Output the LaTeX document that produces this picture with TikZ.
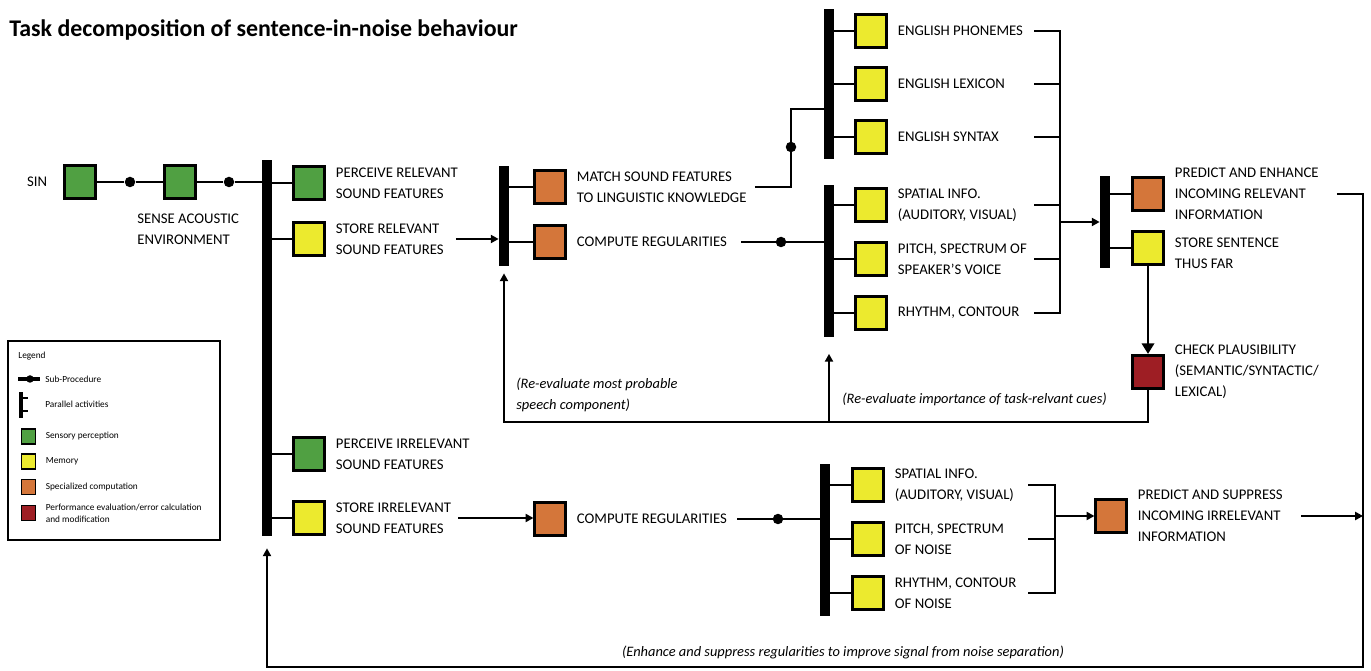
\documentclass[tikz,border=0pt]{standalone}
\usepackage{fontspec}
\setmainfont{Carlito}
\usepackage{tikz}
\usetikzlibrary{positioning}
\usetikzlibrary{arrows.meta}

\definecolor{sensgreen}{RGB}{80,160,66}
\definecolor{memyellow}{RGB}{236,234,46}
\definecolor{comporange}{RGB}{212,118,58}
\definecolor{evalred}{RGB}{158,30,36}

\begin{document}
\begin{tikzpicture}[x=0.02cm,y=-0.02cm,
	box/.style={draw,line width=1.5pt,minimum width=0.61cm,minimum height=0.67cm,inner sep=0pt},
	bar/.style={fill=black,minimum width=0.2cm,inner sep=0pt},
	dot/.style={circle,fill=black,minimum size=0.21cm,inner sep=0pt},
	txt/.style={align=left,inner sep=0pt,font=\fontsize{8.4}{12}\selectfont},
	note/.style={align=left,inner sep=0pt,font=\fontsize{8.2}{12}\selectfont\itshape},
	key/.style={align=left,inner sep=0pt,font=\fontsize{5.3}{6.8}\selectfont},
	keybox/.style={draw,line width=1.1pt,minimum width=0.28cm,minimum height=0.3cm,inner sep=0pt},
	link/.style={line width=1.4pt},
	flow/.style={line width=1.4pt,-{Triangle[length=4.5pt,width=4.6pt]}}]
\useasboundingbox (0,0) rectangle (1371,671);
\node[anchor=base west,inner sep=0pt,font=\fontsize{13.6}{15}\selectfont\bfseries] (title) at (9,37) {Task decomposition of sentence-in-noise behaviour};
% sensing chain
\node[box,fill=sensgreen] (sin) at (80,182) {};
\node[txt,left=0.32cm of sin] (sinT) {SIN};
\node[dot] (d1) at (130,182) {};
\node[box,fill=sensgreen] (sense) at (180,182) {};
\node[txt,anchor=west] (senseT) at (137,229) {SENSE ACOUSTIC\\ENVIRONMENT};
\node[dot] (d2) at (229,182) {};
\node[bar,minimum height=7.52cm] (bar1) at (267,348) {};
\draw[link] (sin) -- (d1) -- (sense) -- (d2) -- (d2 -| bar1.west);
\node[box,fill=sensgreen] (percR) at (309,183) {};
\node[txt,right=0.2cm of percR] (percRT) {PERCEIVE RELEVANT\\SOUND FEATURES};
\node[box,fill=memyellow] (storeR) at (309,239) {};
\node[txt,right=0.2cm of storeR] (storeRT) {STORE RELEVANT\\SOUND FEATURES};
\node[box,fill=sensgreen] (percI) at (309,454) {};
\node[txt,right=0.2cm of percI] (percIT) {PERCEIVE IRRELEVANT\\SOUND FEATURES};
\node[box,fill=memyellow] (storeI) at (309,518) {};
\node[txt,right=0.2cm of storeI] (storeIT) {STORE IRRELEVANT\\SOUND FEATURES};
\foreach \s in {percR,storeR,percI,storeI}
	\draw[link] (bar1.east |- \s) -- (\s);
% relevant stream
\node[bar,minimum height=2cm] (bar2) at (504,216) {};
\node[box,fill=comporange] (match) at (550,187) {};
\node[txt,right=0.2cm of match] (matchT) {MATCH SOUND FEATURES\\TO LINGUISTIC KNOWLEDGE};
\node[box,fill=comporange] (compR) at (550,242) {};
\node[txt,right=0.2cm of compR] (compRT) {COMPUTE REGULARITIES};
\foreach \s in {match,compR}
	\draw[link] (bar2.east |- \s) -- (\s);
\draw[flow,shorten <=0.24cm] (storeRT.east |- storeR) -- (storeR -| bar2.west);
\node[bar,minimum height=3cm] (bar3) at (829,84) {};
\node[box,fill=memyellow] (phon) at (871,31) {};
\node[txt,right=0.2cm of phon] (phonT) {ENGLISH PHONEMES};
\node[box,fill=memyellow] (lex) at (871,84) {};
\node[txt,right=0.2cm of lex] (lexT) {ENGLISH LEXICON};
\node[box,fill=memyellow] (syn) at (871,137) {};
\node[txt,right=0.2cm of syn] (synT) {ENGLISH SYNTAX};
\node[bar,minimum height=3.06cm] (bar4) at (829,261) {};
\node[box,fill=memyellow] (spat) at (871,205) {};
\node[txt,right=0.2cm of spat] (spatT) {SPATIAL INFO.\\(AUDITORY, VISUAL)};
\node[box,fill=memyellow] (pitch) at (871,259) {};
\node[txt,right=0.2cm of pitch] (pitchT) {PITCH, SPECTRUM OF\\SPEAKER'S VOICE};
\node[box,fill=memyellow] (rhy) at (871,313) {};
\node[txt,right=0.2cm of rhy] (rhyT) {RHYTHM, CONTOUR};
\foreach \s in {phon,lex,syn}
	\draw[link] (bar3.east |- \s) -- (\s);
\foreach \s in {spat,pitch,rhy}
	\draw[link] (bar4.east |- \s) -- (\s);
\coordinate (mUp) at (791,109);
\node[dot] (dM) at (791,147) {};
\draw[link,shorten <=0.16cm] (matchT.east |- match) -| (mUp) -- (mUp -| bar3.west);
\node[dot] (dC) at (781,242) {};
\draw[link,shorten <=0.28cm] (compRT.east |- compR) -- (compR -| bar4.west);
\coordinate (brL) at (1034,0);
\coordinate (brR) at (1060,0);
\draw[link] (brL |- phon) -| (brR |- rhy) -- (brL |- rhy);
\foreach \s in {lex,syn,spat,pitch}
	\draw[link] (brL |- \s) -- (brR |- \s);
\node[bar,minimum height=1.86cm] (bar5) at (1105,222) {};
\draw[flow] (brR |- bar5) -- (bar5.west);
\node[box,fill=comporange] (predE) at (1148,194) {};
\node[txt,right=0.2cm of predE] (predET) {PREDICT AND ENHANCE\\INCOMING RELEVANT\\INFORMATION};
\node[box,fill=memyellow] (storeS) at (1148,248) {};
\node[txt,right=0.2cm of storeS,yshift=-0.1cm] (storeST) {STORE SENTENCE\\THUS FAR};
\node[box,fill=evalred] (check) at (1148,372) {};
\node[txt,right=0.2cm of check] (checkT) {CHECK PLAUSIBILITY\\(SEMANTIC/SYNTACTIC/\\LEXICAL)};
\foreach \s in {predE,storeS}
	\draw[link] (bar5.east |- \s) -- (\s);
\draw[line width=1.4pt,-{Triangle[length=6pt,width=7pt]}] (storeS) -- (check);
% feedback loops
\coordinate (fb1) at (0,422);
\draw[flow,shorten >=0.14cm] (check) |- (fb1 -| bar2) -- (bar2.south);
\draw[flow,shorten >=0.32cm] (fb1 -| bar4) -- (bar4.south);
\node[note,anchor=west] (noteA) at (516,395) {(Re-evaluate most probable\\speech component)};
\node[note,anchor=west] (noteB) at (842,399) {(Re-evaluate importance of task-relvant cues)};
% irrelevant stream
\node[box,fill=comporange] (compI) at (550,519) {};
\node[txt,right=0.2cm of compI] (compIT) {COMPUTE REGULARITIES};
\draw[flow,shorten <=0.14cm] (storeIT.east |- storeI) -- (storeI -| compI.west);
\node[bar,minimum height=3.06cm] (bar6) at (825,540) {};
\node[dot] (dI) at (778,519) {};
\draw[link,shorten <=0.2cm] (compIT.east |- compI) -- (compI -| bar6.west);
\node[box,fill=memyellow] (spatN) at (868,485) {};
\node[txt,right=0.2cm of spatN] (spatNT) {SPATIAL INFO.\\(AUDITORY, VISUAL)};
\node[box,fill=memyellow] (pitchN) at (868,539) {};
\node[txt,right=0.2cm of pitchN] (pitchNT) {PITCH, SPECTRUM\\OF NOISE};
\node[box,fill=memyellow] (rhyN) at (868,593) {};
\node[txt,right=0.2cm of rhyN] (rhyNT) {RHYTHM, CONTOUR\\OF NOISE};
\foreach \s in {spatN,pitchN,rhyN}
	\draw[link] (bar6.east |- \s) -- (\s);
\coordinate (bnL) at (1028,0);
\coordinate (bnR) at (1055,0);
\draw[link] (bnL |- spatN) -| (bnR |- rhyN) -- (bnL |- rhyN);
\draw[link] (bnL |- pitchN) -- (bnR |- pitchN);
\node[box,fill=comporange] (predS) at (1111,516) {};
\node[txt,right=0.2cm of predS] (predST) {PREDICT AND SUPPRESS\\INCOMING IRRELEVANT\\INFORMATION};
\draw[flow] (bnR |- predS) -- (predS);
\coordinate (rc) at (1363,0);
\coordinate (fb2) at (0,667);
\draw[flow,line width=1.2pt,shorten <=0.36cm,shorten >=0.24cm] (predET.east |- predE) -- (rc |- predE) |- (fb2 -| bar1) -- (bar1.south);
\draw[flow,shorten <=0.36cm] (predST.east |- predS) -- (rc |- predS);
\node[note] (noteC) at (843,652) {(Enhance and suppress regularities to improve signal from noise separation)};
% legend
\node[draw,line width=1.6pt,minimum width=4.24cm,minimum height=3.98cm,inner sep=0pt] (legend) at (114,440.5) {};
\node[key,anchor=west] (keyT) at (18,356) {Legend};
\coordinate (keyA) at (18,379);
\coordinate (keyB) at (40,379);
\draw[line width=2pt] (keyA) -- (keyB);
\node[dot,minimum size=0.15cm] (keyDot) at (30,379) {};
\node[key,anchor=west] (keySub) at (45,379) {Sub-Procedure};
\node[fill=black,minimum width=0.08cm,minimum height=0.52cm,inner sep=0pt] (keyBar) at (21,405) {};
\coordinate (keyP1) at (28,398);
\coordinate (keyP2) at (28,411);
\draw[line width=1.5pt] (keyP1 -| keyBar.east) -- (keyP1);
\draw[line width=1.5pt] (keyP2 -| keyBar.east) -- (keyP2);
\node[key,anchor=west] (keyPar) at (45,404) {Parallel activities};
\node[keybox,fill=sensgreen] (keyG) at (28.5,436.5) {};
\node[key,right=0.18cm of keyG] (keyGT) {Sensory perception};
\node[keybox,fill=memyellow] (keyY) at (28.5,461.5) {};
\node[key,right=0.18cm of keyY] (keyYT) {Memory};
\node[keybox,fill=comporange] (keyO) at (28.5,487) {};
\node[key,right=0.18cm of keyO] (keyOT) {Specialized computation};
\node[keybox,fill=evalred] (keyR) at (28.5,513) {};
\node[key,right=0.18cm of keyR] (keyRT) {Performance evaluation/error calculation\\and modification};
\end{tikzpicture}
\end{document}
